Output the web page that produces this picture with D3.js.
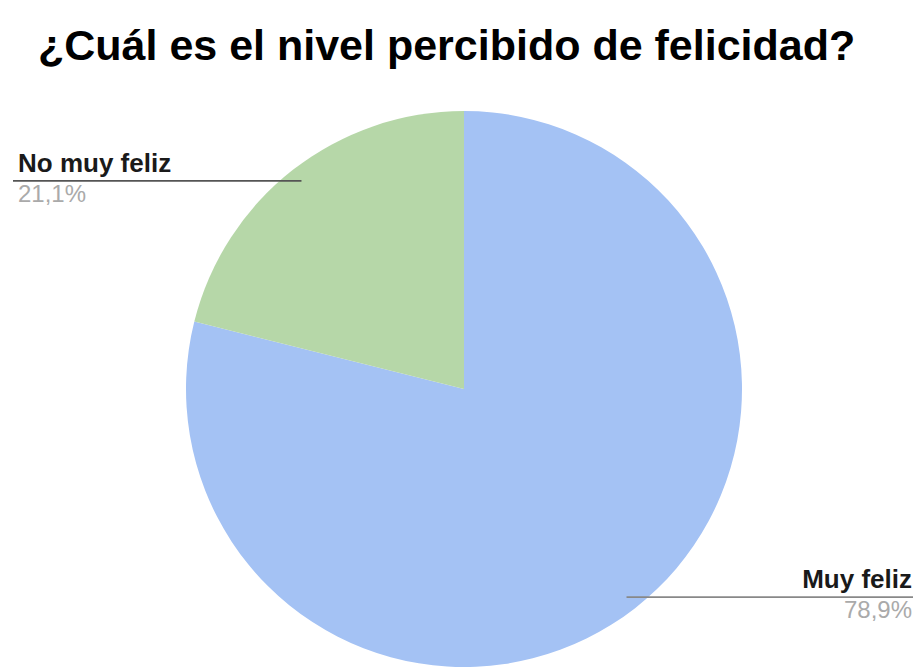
<!DOCTYPE html>
<html><head><meta charset="utf-8">
<script src="https://cdn.jsdelivr.net/npm/d3@7"></script>
<style>html,body{margin:0;padding:0;background:#fff;}</style>
</head><body>
<svg id="chart" width="917" height="668"></svg>
<script>
const title = "¿Cuál es el nivel percibido de felicidad?";
const categories = ["Muy feliz", "No muy feliz"];
const values = [78.9, 21.1];
const valueLabels = ["78,9%", "21,1%"];
const colors = ["#a4c2f4", "#b6d7a8"];

const W = 917, H = 668;
const cx = 464, cy = 389, R = 278;
const svg = d3.select("#chart");

svg.append("text").attr("x", 38).attr("y", 60)
  .attr("font-family", "Liberation Sans, Arial, sans-serif")
  .attr("font-weight", "bold").attr("font-size", 43).attr("fill", "#000")
  .text(title);

const data = categories.map((c, i) => ({cat: c, value: values[i], label: valueLabels[i], color: colors[i]}));
const pie = d3.pie().sort(null).value(d => d.value).startAngle(0).endAngle(2 * Math.PI);
const arcs = pie(data);
const arc = d3.arc().innerRadius(0).outerRadius(R);
const g = svg.append("g").attr("transform", `translate(${cx},${cy})`);
g.selectAll("path").data(arcs).join("path")
  .attr("d", arc).attr("fill", d => d.data.color);

const inner = d3.arc().innerRadius(R * 0.95).outerRadius(R * 0.95);
arcs.forEach((a, i) => {
  const [px, py] = inner.centroid(a);
  const ax = cx + px, ay = cy + py;
  const right = px > 0;
  const x0 = right ? W - 4 : 13;
  svg.append("line").attr("x1", ax).attr("y1", ay).attr("x2", x0).attr("y2", ay)
    .attr("stroke", right ? "#888" : "#555").attr("stroke-width", 1.6);
  const tx = right ? W - 5 : 18;
  svg.append("text").attr("x", tx).attr("y", ay - 9)
    .attr("text-anchor", right ? "end" : "start")
    .attr("font-family", "Liberation Sans, Arial, sans-serif")
    .attr("font-weight", "bold").attr("font-size", 26).attr("fill", "#1a1a1a")
    .text(a.data.cat);
  svg.append("text").attr("x", tx).attr("y", ay + 21)
    .attr("text-anchor", right ? "end" : "start")
    .attr("font-family", "Liberation Sans, Arial, sans-serif")
    .attr("font-size", 24).attr("fill", "#aaaaaa")
    .text(a.data.label);
});
</script>
</body></html>
